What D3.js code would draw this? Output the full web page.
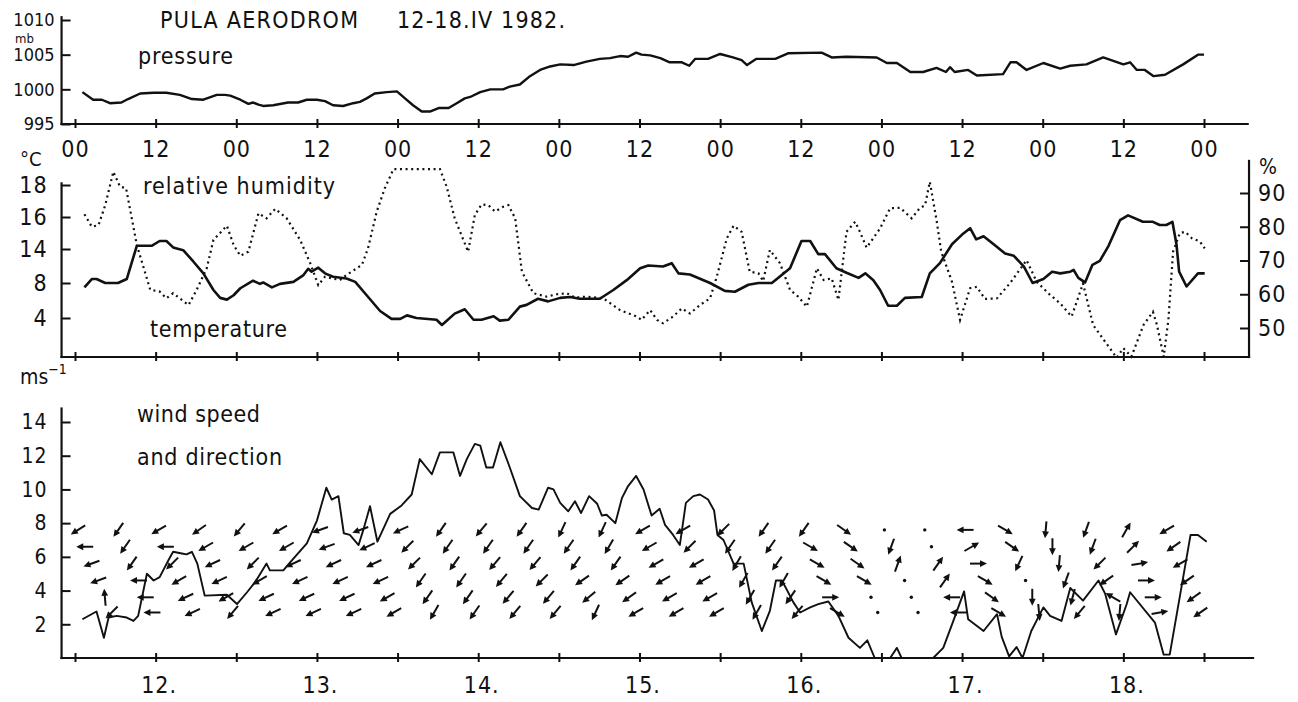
<!DOCTYPE html>
<html>
<head>
<meta charset="utf-8">
<script src="https://cdn.jsdelivr.net/npm/d3@7"></script>
<style>
  body { margin: 0; background: #fff; }
  svg text { font-family: "Liberation Sans Narrow", "DejaVu Sans Condensed", "Arial Narrow", sans-serif; fill: #111; }
</style>
</head>
<body>
<svg id="chart" width="1298" height="702"></svg>
<script>
// DATA (hours counted from 12.IV 00h)

// pressure, mb
var pressureObs = [[1.1,999.6],[2.7,998.5],[4.0,998.5],[5.2,998.0],[6.9,998.1],[7.9,998.6],[9.7,999.4],[11.7,999.5],[13.6,999.5],
  [15.6,999.2],[17.4,998.6],[19.1,998.5],[21.1,999.2],[22.3,999.2],[23.1,999.1],[24.6,998.5],[25.8,997.9],[26.5,998.1],[27.3,997.8],
  [28.0,997.6],[29.5,997.7],[31.7,998.1],[33.2,998.1],[34.5,998.5],[36.0,998.5],[37.2,998.3],[38.4,997.7],[39.9,997.6],[41.4,998.0],
  [42.4,998.2],[43.4,998.7],[44.6,999.4],[46.4,999.6],[47.9,999.7],[49.1,998.7],[50.3,997.7],[51.6,996.8],[52.8,996.8],[54.1,997.3],
  [55.6,997.3],[56.8,998.0],[58.0,998.7],[58.8,998.9],[60.3,999.6],[61.8,1000.0],[63.7,1000.0],[64.7,1000.4],[66.2,1000.7],[67.7,1001.9],
  [69.2,1002.8],[70.7,1003.3],[72.2,1003.6],[74.2,1003.5],[76.1,1004.0],[78.1,1004.4],[79.6,1004.5],[81.1,1004.8],[82.3,1004.7],
  [83.5,1005.3],[84.3,1005.0],[85.6,1004.9],[87.1,1004.5],[88.5,1003.9],[90.3,1003.9],[91.4,1003.4],[92.3,1004.4],[94.2,1004.4],
  [96.0,1005.1],[97.9,1004.6],[99.2,1004.2],[100.0,1003.5],[101.4,1004.4],[104.2,1004.4],[106.1,1005.2],[111.1,1005.3],[112.6,1004.6],
  [114.8,1004.7],[119.3,1004.6],[120.8,1003.8],[122.3,1003.8],[124.3,1002.5],[126.2,1002.5],[128.2,1003.1],[129.6,1002.5],[130.2,1003.2],
  [130.9,1002.5],[132.9,1002.8],[134.2,1002.0],[138.1,1002.2],[139.2,1003.9],[140.1,1003.9],[141.6,1002.8],[144.1,1003.8],[146.6,1003.0],
  [148.1,1003.4],[150.5,1003.6],[153.0,1004.6],[156.0,1003.6],[157.0,1003.9],[158.0,1002.8],[159.2,1002.8],[160.5,1001.9],[162.2,1002.1],
  [164.9,1003.6],[167.1,1005.0],[168.0,1005.0]]

// temperature, deg C (read against the printed 4-8-14-16-18 scale)
var temperatureObs = [[1.4,7.5],[2.5,8.7],[3.2,8.7],[4.5,8.0],[6.4,8.0],[7.7,8.7],[9.2,14.2],[11.4,14.2],[12.6,14.5],[13.6,14.5],
  [14.6,14.1],[16.1,13.8],[17.6,11.8],[19.1,9.7],[20.6,7.2],[21.6,6.3],[22.6,6.1],[23.6,6.6],[24.6,7.4],[26.5,8.4],[27.5,7.9],
  [28.0,8.1],[29.3,7.5],[30.5,7.9],[32.5,8.2],[34.0,9.4],[34.7,10.5],[35.2,10.0],[36.2,10.7],[37.2,9.7],[38.4,9.1],[40.4,8.8],
  [41.7,8.2],[43.4,6.6],[45.4,4.8],[47.1,3.9],[48.4,3.9],[49.4,4.3],[50.8,4.0],[53.8,3.8],[54.6,3.2],[56.5,4.5],[58.0,5.0],
  [59.3,3.8],[60.5,3.8],[62.3,4.2],[63.2,3.7],[64.5,3.8],[66.2,5.3],[67.2,5.5],[68.9,6.2],[70.4,5.9],[72.2,6.3],[73.7,6.4],
  [75.1,6.2],[78.1,6.2],[80.1,7.2],[82.1,8.5],[84.1,10.6],[85.3,11.1],[87.5,10.9],[88.8,11.5],[89.8,9.7],[91.5,9.5],[94.5,8.0],
  [96.7,7.1],[98.2,7.0],[100.2,7.8],[101.7,8.0],[103.7,8.0],[106.4,10.6],[108.1,14.5],[109.4,14.5],[110.6,13.1],[111.6,13.1],
  [113.3,10.6],[114.8,9.8],[116.6,8.9],[117.6,9.7],[118.8,8.5],[119.8,7.2],[121.0,5.4],[122.3,5.4],[123.5,6.3],[126.0,6.4],
  [127.2,9.7],[128.7,11.5],[130.5,14.3],[132.0,14.9],[133.2,15.3],[134.1,14.6],[135.2,14.8],[136.7,14.3],[138.4,13.2],[139.7,12.8],
  [141.2,10.9],[142.5,8.0],[144.1,8.7],[145.4,10.0],[146.6,9.7],[148.1,10.0],[148.6,10.3],[149.3,8.9],[150.3,8.1],[151.4,11.2],
  [152.5,11.9],[153.8,14.2],[155.5,15.8],[156.7,16.1],[158.9,15.7],[160.4,15.7],[161.4,15.5],[162.4,15.5],[163.3,15.7],[163.9,14.3],
  [164.3,10.0],[165.4,7.6],[167.1,9.7],[168.1,9.7]]

// relative humidity, %
var humidityObs = [[1.4,83.7],[2.5,80.0],[3.5,80.5],[4.5,86.4],[5.7,96.3],[6.7,91.9],[7.6,91.4],[9.2,74.6],[11.2,61.3],[12.6,60.8],
  [13.6,58.8],[14.6,60.3],[16.9,56.8],[18.1,61.3],[19.6,67.7],[20.6,76.1],[22.6,80.3],[23.6,74.6],[24.6,71.4],[25.8,72.6],
  [27.3,84.0],[28.5,82.5],[29.8,85.3],[31.5,82.5],[33.5,76.1],[35.0,69.2],[36.2,62.7],[37.2,65.2],[39.4,64.2],[40.4,65.7],
  [42.7,68.7],[43.6,73.6],[44.9,84.5],[46.1,91.4],[47.4,97.1],[54.3,97.1],[55.3,91.9],[56.5,82.5],[58.5,72.6],[59.5,83.5],
  [60.5,86.6],[61.5,86.4],[62.5,84.5],[63.7,85.9],[64.5,86.4],[65.5,82.5],[66.5,66.7],[68.2,60.3],[70.2,59.3],[71.7,60.0],
  [73.2,60.3],[74.4,59.0],[76.1,59.3],[78.6,58.8],[81.1,55.3],[83.6,53.4],[84.3,52.4],[85.6,55.3],[86.6,52.4],[87.5,51.4],
  [89.0,53.4],[90.3,55.8],[91.5,54.3],[93.0,56.8],[94.5,58.8],[95.5,65.2],[97.0,76.6],[98.0,80.3],[99.2,78.5],[100.4,66.7],
  [101.7,66.2],[102.4,63.9],[103.4,73.1],[104.9,69.2],[106.4,61.3],[107.6,59.3],[108.9,56.3],[110.4,67.7],[111.4,64.2],
  [112.6,64.7],[113.6,58.3],[114.8,78.5],[116.1,81.5],[116.8,78.5],[117.8,73.8],[119.8,79.5],[121.3,85.5],[122.8,85.6],
  [124.5,82.5],[125.7,85.5],[126.5,86.4],[127.2,93.3],[128.2,82.0],[128.9,72.6],[130.5,63.7],[131.7,52.4],[132.4,56.8],
  [133.2,61.8],[134.2,62.2],[135.4,58.6],[137.2,58.8],[139.1,63.2],[141.6,70.1],[143.1,63.7],[145.1,59.8],[146.6,57.3],
  [148.3,53.4],[150.0,63.2],[151.5,50.9],[153.3,45.9],[155.0,41.2],[156.0,44.0],[157.2,41.5],[159.0,50.9],[160.4,54.8],
  [161.0,50.9],[162.0,41.5],[162.7,52.4],[163.4,72.6],[164.4,78.1],[165.2,78.5],[166.2,76.6],[167.4,75.6],[168.1,73.6]]

// wind speed, m/s
var windSpeedObs = [[1.1,2.3],[3.2,2.76],[4.3,1.2],[5.0,2.4],[6.2,2.5],[7.7,2.4],[8.7,2.2],[9.4,2.5],[10.7,5.0],[11.7,4.6],
  [12.6,4.8],[13.9,5.8],[14.6,6.3],[15.9,6.2],[16.6,6.15],[17.4,6.3],[18.2,5.6],[19.3,3.7],[22.6,3.75],[24.1,3.2],[25.6,3.9],
  [26.8,4.5],[28.5,5.6],[29.0,5.2],[31.0,5.2],[32.5,5.9],[34.5,6.8],[36.0,8.15],[37.4,10.1],[38.2,9.4],[39.2,9.6],[40.0,7.4],
  [40.9,7.3],[42.2,6.7],[42.9,7.6],[43.9,9.0],[45.0,6.9],[46.9,8.55],[48.6,9.05],[50.1,9.7],[51.3,11.8],[53.1,10.9],[54.3,12.2],
  [56.3,12.2],[57.3,10.8],[58.3,11.8],[59.5,12.7],[60.3,12.6],[61.2,11.3],[62.2,11.3],[63.3,12.8],[64.7,11.3],[66.2,9.6],
  [68.0,8.9],[69.0,8.8],[70.4,10.1],[71.2,10.0],[72.2,9.2],[73.4,8.7],[74.4,9.3],[75.3,8.6],[76.5,9.6],[77.7,9.15],[78.4,8.45],
  [79.1,8.5],[80.4,8.0],[81.4,9.5],[82.3,10.2],[83.5,10.8],[84.6,10.0],[85.8,8.45],[87.0,8.85],[87.8,7.9],[89.0,7.3],[90.0,6.7],
  [90.9,9.2],[92.0,9.6],[93.0,9.7],[94.2,9.4],[95.1,8.75],[95.6,7.3],[96.5,7.0],[98.0,5.6],[99.5,5.6],[100.7,3.3],[102.2,1.6],
  [103.4,2.8],[104.3,4.6],[105.2,4.6],[106.9,3.3],[107.9,2.7],[109.4,3.0],[110.6,3.2],[112.1,3.35],[113.6,2.5],[115.1,1.2],
  [116.8,0.6],[117.9,1.05],[119.0,0],[121.3,0],[122.3,0.6],[123.0,0],[127.7,0],[129.2,0.6],[130.7,2.2],[132.3,3.95],[132.9,2.3],
  [135.2,1.6],[137.2,2.6],[137.9,1.25],[139.0,0.1],[140.1,0.65],[141.0,0],[142.3,1.6],[144.1,3.0],[145.1,2.5],[146.8,2.2],
  [148.1,4.15],[150.0,3.4],[152.3,4.6],[153.3,3.8],[154.9,1.4],[156.5,3.2],[157.0,3.9],[160.7,2.1],[162.0,0.2],[162.9,0.2],
  [166.0,7.3],[167.1,7.3],[168.4,6.9]]

// wind direction, one arrow per hour from 00h on the 12th (degrees the arrow points to, null = calm)
var windDirs = [
  238, 270, 250, 250, 355, 225,   215, 215, 215, 270, 270, 270,
  240, 270, 225, 240, 245, 245,   235, 240, 245, 245, 240, 220,
  220, 240, 225, 240, 245, 245,   240, 240, 245, 245, 245, 245,
  250, 250, 245, 245, 245, 245,   250, 245, 245, 245, 240, 240,
  245, 225, 225, 215, 215, 210,   215, 215, 215, 215, 215, 215,
  220, 215, 220, 220, 220, 220,   215, 215, 220, 225, 220, 220,
  205, 215, 215, 235, 230, 205,   205, 210, 215, 235, 235, 240,
  240, 240, 240, 240, 240, 240,   240, 225, 240, 240, 240, 240,
  225, 215, 210, 210, 210, 210,   215, 215, 215, 210, 215, 220,
  215, 120, 120, 120, 90, 120,    125, 125, 125, 120, null, null,
  null, 200, 20, null, null, null, null, null, 35, 35, 270, 270,
  270, 60, 90, 120, 125, 120,     120, 125, 205, null, 180, 175,
  185, 180, 185, 200, 195, 220,   200, 200, 225, 235, 300, 185,
  30, 45, 80, 90, 90, 80,         240, 235, 240, 235, 235, 235]

// the arrows of each 6-hour block are stacked in these speed rows, m/s
var arrowRows = [7.6, 6.6, 5.6, 4.6, 3.6, 2.7]

var hourTicks = d3.range(0, 169, 12)
var dayLabels = ['12.', '13.', '14.', '15.', '16.', '17.', '18.']
var pressureTicks = [995, 1000, 1005, 1010]
var temperatureTicks = [4, 8, 14, 16, 18]
var humidityTicks = [50, 60, 70, 80, 90]
var windTicks = [2, 4, 6, 8, 10, 12, 14]


// SCALES
var x = d3.scaleLinear().domain([0, 168]).range([75, 1204])
var yP = d3.scaleLinear().domain([995, 1010]).range([124, 20])
var yT = d3.scaleLinear().domain([4, 8, 14, 16, 18]).range([318, 283, 249, 217, 185])  // printed scale is uneven
var yH = d3.scaleLinear().domain([50, 90]).range([328, 193])
var yW = d3.scaleLinear().domain([0, 14]).range([658, 422])

var xLeft = x(-2), xRight = x(174.5)
var midBase = 357

var svg = d3.select('#chart')
svg.append('rect').attr('width', 1298).attr('height', 702).attr('fill', '#fff')

var ink = '#111'

function spine(x1, y1, x2, y2) {
  svg.append('line')
    .attr('x1', x1).attr('y1', y1).attr('x2', x2).attr('y2', y2)
    .attr('stroke', ink).attr('stroke-width', 2.2).attr('stroke-linecap', 'square')
}

// Style an axis group: no domain path, thick ticks, big narrow digits
function style_axis(g, size, spacing = 1) {
  g.select('.domain').remove()
  g.selectAll('.tick line').attr('stroke', ink).attr('stroke-width', 2)
  g.selectAll('.tick text')
    .attr('fill', ink)
    .style('font-size', size + 'px')
    .style('letter-spacing', spacing + 'px')
  g.attr('font-family', null)
}

// time axis with ticks crossing the line
function time_axis(yPos, labels) {
  var g = svg.append('g')
    .attr('transform', `translate(0,${yPos})`)
    .call(d3.axisBottom(x).tickValues(hourTicks).tickSize(4).tickFormat(labels))
  style_axis(g, 23)
  g.selectAll('.tick line').attr('y1', -5).attr('y2', 4)
  return g
}

function label(txt, x0, y0, size, len) {
  var t = svg.append('text')
    .attr('x', x0).attr('y', y0)
    .style('font-size', size + 'px')
    .text(txt)
  if (len) t.attr('textLength', len).attr('lengthAdjust', 'spacing')
  return t
}


// PRESSURE PANEL
spine(xLeft, yP(1010.4), xLeft, yP(995))
spine(xLeft, yP(995), xRight, yP(995))

var gP = svg.append('g').attr('transform', `translate(${xLeft},0)`)
  .call(d3.axisLeft(yP).tickValues(pressureTicks).tickSize(-9).tickPadding(7).tickFormat(d3.format('d')))
style_axis(gP, 18, 0)

var gTop = time_axis(yP(995), h => (h % 24 == 0) ? '00' : '12')
gTop.selectAll('.tick text').attr('y', 33).attr('dy', 0)

svg.append('path')
  .datum(pressureObs)
  .attr('d', d3.line().x(d => x(d[0])).y(d => yP(d[1])))
  .attr('fill', 'none').attr('stroke', ink).attr('stroke-width', 2.4).attr('stroke-linejoin', 'round')

label('PULA AERODROM', 160, 28, 23, 198)
label('12-18.IV 1982.', 397, 28, 23, 168)
label('mb', 15, 43, 13)
label('pressure', 138, 64, 23, 95)


// TEMPERATURE / HUMIDITY PANEL
spine(xLeft, yT(18.1), xLeft, midBase)
spine(xLeft, midBase, x(174.7), midBase)
spine(x(174.7), yH(99.5), x(174.7), midBase)

var gT = svg.append('g').attr('transform', `translate(${xLeft},0)`)
  .call(d3.axisLeft(yT).tickValues(temperatureTicks).tickSize(-9).tickPadding(14))
style_axis(gT, 23)

var gH = svg.append('g').attr('transform', `translate(${x(174.7)},0)`)
  .call(d3.axisRight(yH).tickValues(humidityTicks).tickSize(-9).tickPadding(9))
style_axis(gH, 23)

time_axis(midBase, '').selectAll('.tick text').remove()

svg.append('path')
  .datum(humidityObs)
  .attr('d', d3.line().x(d => x(d[0])).y(d => yH(d[1])))
  .attr('fill', 'none').attr('stroke', ink).attr('stroke-width', 2.2)
  .attr('stroke-dasharray', '2 3.6')

svg.append('path')
  .datum(temperatureObs)
  .attr('d', d3.line().x(d => x(d[0])).y(d => yT(d[1])))
  .attr('fill', 'none').attr('stroke', ink).attr('stroke-width', 2.6).attr('stroke-linejoin', 'round')

label('°C', 20, 166, 20)
label('%', 1259, 174, 21)
label('relative humidity', 143, 194, 23, 192)
label('temperature', 150, 337, 23, 137)


// WIND PANEL
spine(xLeft, yW(14.8), xLeft, yW(0))
spine(xLeft, yW(0), x(175.3), yW(0))

var gW = svg.append('g').attr('transform', `translate(${xLeft},0)`)
  .call(d3.axisLeft(yW).tickValues(windTicks).tickSize(-9).tickPadding(14))
style_axis(gW, 21)

var gBot = time_axis(yW(0), h => (h % 24 == 12) ? dayLabels[(h - 12) / 24] : '')
gBot.selectAll('.tick text').attr('y', 35).attr('dy', 0).attr('dx', 3)

svg.append('path')
  .datum(windSpeedObs)
  .attr('d', d3.line().x(d => x(d[0])).y(d => yW(d[1])))
  .attr('fill', 'none').attr('stroke', ink).attr('stroke-width', 1.9).attr('stroke-linejoin', 'round')

// direction arrows, one per hour, stacked in rows
var arrows = windDirs.map((dir, h) => ({h: h, dir: dir, row: arrowRows[h % 6]}))
var arrowLen = 17

var ga = svg.append('g')
ga.selectAll('g.arrow')
  .data(arrows.filter(d => d.dir !== null))
  .join('g')
    .attr('class', 'arrow')
    .attr('transform', d => `translate(${x(d.h) + 3},${yW(d.row)}) rotate(${d.dir})`)
    .each(function () {
      var a = d3.select(this)
      a.append('line')
        .attr('x1', 0).attr('y1', arrowLen / 2).attr('x2', 0).attr('y2', -arrowLen / 2 + 3)
        .attr('stroke', ink).attr('stroke-width', 2)
      a.append('path')
        .attr('d', `M0,${-arrowLen / 2} L-3.4,${-arrowLen / 2 + 7} L3.4,${-arrowLen / 2 + 7} Z`)
        .attr('fill', ink)
    })

ga.selectAll('circle')
  .data(arrows.filter(d => d.dir === null))
  .join('circle')
    .attr('cx', d => x(d.h) + 3)
    .attr('cy', d => yW(d.row))
    .attr('r', 1.7)
    .attr('fill', ink)

var ms = label('ms', 20, 384, 21)
ms.append('tspan').attr('dy', -10).style('font-size', '14px').text('−1')
label('wind speed', 137, 422, 23, 123)
label('and direction', 137, 465, 23, 145)
</script>
</body>
</html>
